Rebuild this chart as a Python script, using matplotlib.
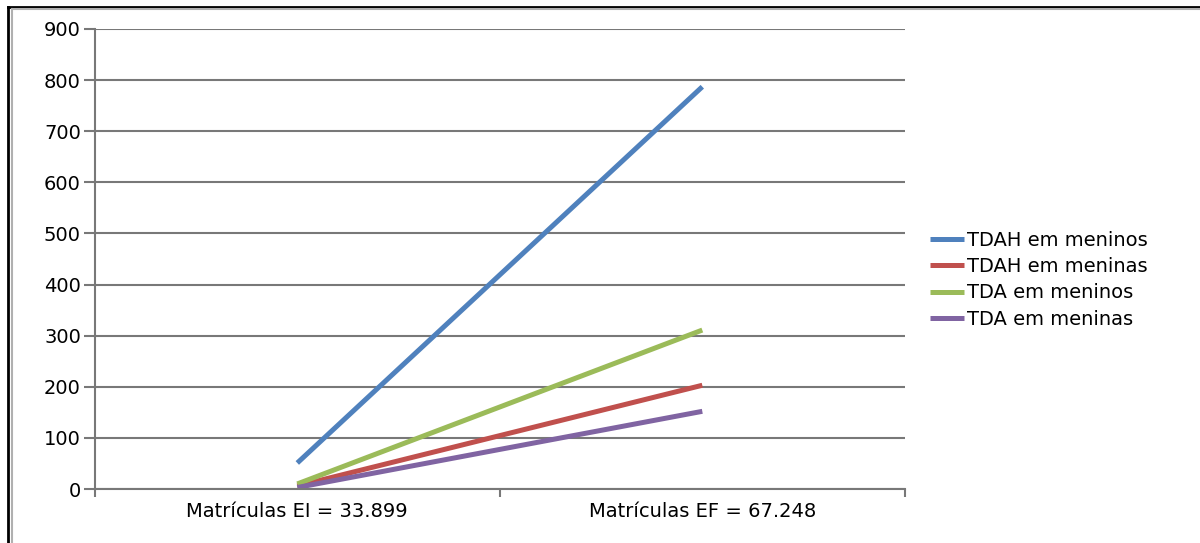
import matplotlib.pyplot as plt
from matplotlib.lines import Line2D

categories = ["Matrículas EI = 33.899", "Matrículas EF = 67.248"]
series_names = ["TDAH em meninos", "TDAH em meninas", "TDA em meninos", "TDA em meninas"]
tdah_meninos = [51, 787]
tdah_meninas = [6, 203]
tda_meninos = [10, 311]
tda_meninas = [3, 152]
colors = ["#4F81BD", "#C0504D", "#9BBB59", "#8064A2"]

fig = plt.figure(figsize=(12, 5.43), dpi=100)
ax = fig.add_axes([0.079, 0.0994, 0.675, 0.8472])

x = [0.5, 1.5]
for vals, name, col in zip([tdah_meninos, tdah_meninas, tda_meninos, tda_meninas], series_names, colors):
    ax.plot(x, vals, color=col, lw=3.6, label=name, solid_capstyle="butt")

ax.set_xlim(0, 2)
ax.set_ylim(0, 900)
ax.set_yticks(range(0, 901, 100))
ax.set_xticks([0.5, 1.5])
ax.set_xticklabels(categories)
ax.set_xticks([0, 1, 2], minor=True)
ax.tick_params(axis="x", which="major", length=0, pad=9, labelsize=14)
ax.tick_params(axis="x", which="minor", length=6, width=1.5, color="#787878", direction="out")
ax.tick_params(axis="y", length=8, width=1.5, color="#787878", labelsize=14, pad=2)
ax.grid(axis="y", color="#787878", lw=1.5)
ax.set_axisbelow(True)
for s in ["top", "right"]:
    ax.spines[s].set_visible(False)
for s in ["left", "bottom"]:
    ax.spines[s].set_color("#787878")
    ax.spines[s].set_linewidth(1.5)

ax.legend(loc="center left", bbox_to_anchor=(1.009, 0.455), frameon=False,
          fontsize=14, handlelength=1.75, handletextpad=0.15, labelspacing=0.38)

# outer frame of the original picture (left and top edges only)
fig.add_artist(Line2D([0.0065, 0.0065], [0, 0.988], transform=fig.transFigure, color="black", lw=2))
fig.add_artist(Line2D([0.0065, 1], [0.987, 0.987], transform=fig.transFigure, color="black", lw=2))
fig.add_artist(Line2D([0.0097, 0.0097], [0, 0.983], transform=fig.transFigure, color="#b0b0b0", lw=1.5))
fig.add_artist(Line2D([0.0097, 1], [0.983, 0.983], transform=fig.transFigure, color="#b0b0b0", lw=1.5))

fig.savefig("out.png", dpi=100)
